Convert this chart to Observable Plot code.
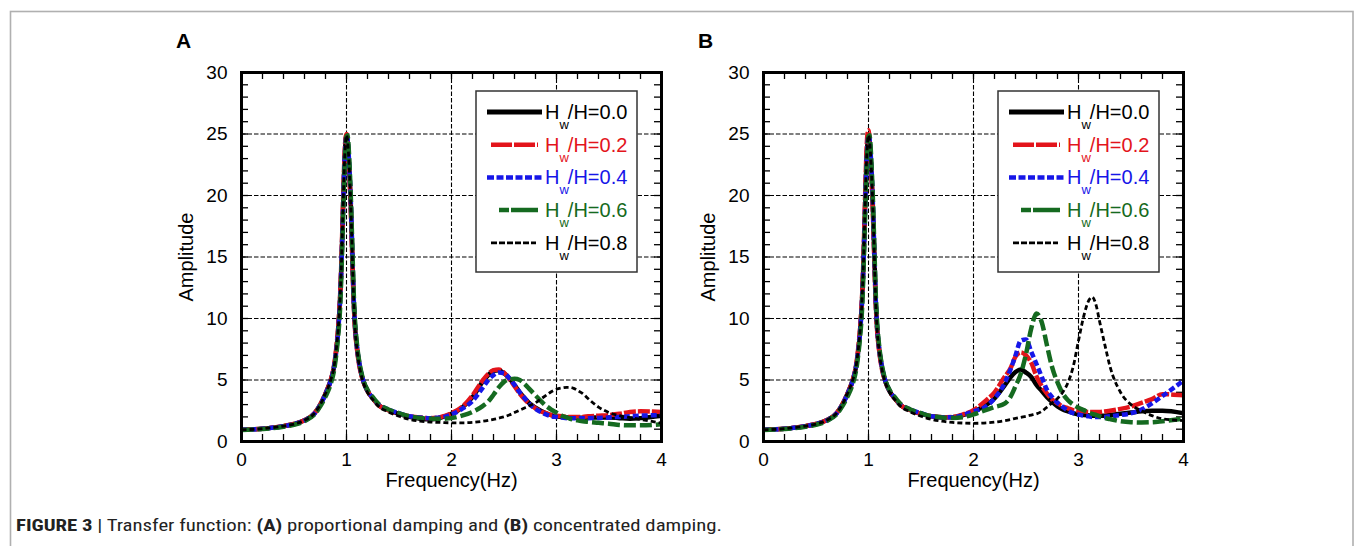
<!DOCTYPE html>
<html>
<head>
<meta charset="utf-8">
<script src="https://cdn.jsdelivr.net/npm/d3@7"></script>
<script src="https://cdn.jsdelivr.net/npm/@observablehq/plot@0.6"></script>
<style>
  body { margin: 0; background: #fff; }
  #fig { position: relative; width: 1355px; height: 546px; overflow: hidden; background: #fff; }
  #bg { position: absolute; left: 0; top: 0; }
  .panel { position: absolute; top: 20px; }
</style>
</head>
<body>
<div id="fig">
  <svg id="bg" width="1355" height="546"></svg>
  <div class="panel" id="panelA" style="left:150px"></div>
  <div class="panel" id="panelB" style="left:672px"></div>
</div>
<script>
// ---------------- data ----------------
const freq = [
  0, 0.2, 0.4, 0.5, 0.6, 0.7, 0.75, 0.8, 0.85, 0.88,
  0.9, 0.92, 0.94, 0.95, 0.96, 0.97, 0.98, 0.99, 1.0, 1.01,
  1.02, 1.03, 1.04, 1.05, 1.06, 1.07, 1.08, 1.1, 1.13, 1.16,
  1.2, 1.26, 1.3, 1.4, 1.5, 1.6, 1.7, 1.8, 1.9, 2.0,
  2.1, 2.2, 2.3, 2.35, 2.4, 2.45, 2.5, 2.55, 2.6, 2.65,
  2.7, 2.75, 2.8, 2.85, 2.9, 2.95, 3.0, 3.05, 3.1, 3.13,
  3.17, 3.2, 3.25, 3.3, 3.4, 3.5, 3.6, 3.7, 3.8, 4.0
];

const hwLabels = ["0.0", "0.2", "0.4", "0.6", "0.8"];
const panelLetters = ["A", "B"];
const xTickValues = [0, 1, 2, 3, 4];
const yTickValues = [0, 5, 10, 15, 20, 25, 30];
const xMinorTicks = [0, 0.2, 0.4, 0.6, 0.8, 1, 1.2, 1.4, 1.6, 1.8, 2, 2.2, 2.4, 2.6, 2.8, 3, 3.2, 3.4, 3.6, 3.8, 4];
const yMinorTicks = [0, 1, 2, 3, 4, 5, 6, 7, 8, 9, 10, 11, 12, 13, 14, 15, 16, 17, 18, 19, 20, 21, 22, 23, 24, 25, 26, 27, 28, 29, 30];
const xTitle = "Frequency(Hz)";
const yTitle = "Amplitude";

// (A) proportional damping
const ampA_00 = [
  0.95, 1.04, 1.25, 1.42, 1.72, 2.35, 3.0, 3.9, 5.0, 6.0,
  7.2, 9.0, 11.8, 14.0, 16.8, 19.8, 22.5, 24.2, 24.9, 24.5,
  23.3, 21.6, 19.5, 16.8, 13.8, 11.2, 9.5, 7.6, 5.9, 4.9,
  4.1, 3.4, 3.0, 2.55, 2.25, 2.0, 1.85, 1.8, 1.95, 2.25,
  2.75, 3.6, 4.9, 5.4, 5.75, 5.8, 5.55, 5.15, 4.6, 4.0,
  3.5, 3.05, 2.75, 2.5, 2.3, 2.15, 2.05, 2.0, 1.95, 1.95,
  1.93, 1.93, 1.93, 1.95, 1.95, 1.95, 1.9, 1.85, 1.9, 2.1
];
const ampA_02 = [
  0.95, 1.04, 1.25, 1.42, 1.72, 2.35, 3.0, 3.9, 5.0, 6.1,
  7.4, 9.2, 12.0, 14.3, 17.2, 20.3, 23.0, 24.6, 25.0, 24.3,
  23.0, 21.2, 19.0, 16.3, 13.4, 11.0, 9.3, 7.5, 5.8, 4.9,
  4.1, 3.4, 3.0, 2.55, 2.25, 2.05, 1.95, 1.9, 2.0, 2.3,
  2.8, 3.75, 5.0, 5.5, 5.8, 5.85, 5.6, 5.1, 4.5, 3.9,
  3.4, 3.0, 2.7, 2.45, 2.3, 2.15, 2.1, 2.05, 2.0, 2.0,
  2.0, 2.0, 2.0, 2.05, 2.1, 2.15, 2.25, 2.4, 2.45, 2.4
];
const ampA_04 = [
  0.95, 1.04, 1.24, 1.41, 1.7, 2.32, 2.95, 3.85, 4.95, 6.0,
  7.2, 8.9, 11.6, 13.8, 16.6, 19.6, 22.4, 24.1, 24.9, 24.6,
  23.5, 21.8, 19.8, 17.0, 14.0, 11.4, 9.6, 7.7, 6.0, 4.95,
  4.15, 3.45, 3.05, 2.6, 2.3, 2.05, 1.95, 1.9, 1.95, 2.2,
  2.65, 3.3, 4.4, 5.0, 5.4, 5.6, 5.55, 5.15, 4.6, 4.0,
  3.5, 3.0, 2.65, 2.4, 2.2, 2.05, 2.0, 1.95, 1.9, 1.9,
  1.9, 1.9, 1.9, 1.9, 1.92, 1.95, 2.0, 2.05, 2.1, 2.15
];
const ampA_06 = [
  0.93, 1.02, 1.2, 1.36, 1.65, 2.25, 2.85, 3.65, 4.7, 5.7,
  6.9, 8.5, 11.0, 13.2, 16.0, 19.0, 21.8, 23.8, 24.8, 24.9,
  24.0, 22.3, 20.2, 17.5, 14.5, 11.8, 10.0, 7.9, 6.1, 5.0,
  4.2, 3.5, 3.1, 2.6, 2.3, 2.05, 1.92, 1.85, 1.85, 1.9,
  2.1, 2.4, 2.9, 3.25, 3.8, 4.4, 4.85, 5.05, 5.1, 5.0,
  4.65, 4.2, 3.75, 3.3, 2.9, 2.6, 2.35, 2.1, 1.95, 1.85,
  1.78, 1.72, 1.65, 1.6, 1.52, 1.45, 1.35, 1.32, 1.32, 1.4
];
const ampA_08 = [
  0.95, 1.04, 1.25, 1.42, 1.72, 2.35, 3.0, 3.9, 5.0, 6.0,
  7.3, 9.0, 11.8, 14.0, 16.8, 19.8, 22.5, 24.2, 24.9, 24.5,
  23.3, 21.6, 19.5, 16.8, 13.8, 11.2, 9.4, 7.5, 5.8, 4.8,
  4.0, 3.3, 2.9, 2.4, 2.05, 1.8, 1.65, 1.58, 1.55, 1.52,
  1.52, 1.55, 1.65, 1.72, 1.8, 1.9, 2.0, 2.15, 2.35, 2.55,
  2.75, 2.95, 3.15, 3.45, 3.75, 4.05, 4.25, 4.35, 4.4, 4.4,
  4.3, 4.15, 3.9, 3.5, 2.8, 2.35, 2.1, 1.95, 1.8, 1.5
];

// (B) concentrated damping
const ampB_00 = [
  0.95, 1.04, 1.25, 1.42, 1.72, 2.35, 3.0, 3.9, 5.0, 6.0,
  7.2, 9.0, 11.8, 14.0, 16.8, 19.8, 22.5, 24.2, 24.9, 24.5,
  23.3, 21.6, 19.5, 16.8, 13.8, 11.2, 9.5, 7.6, 5.9, 4.9,
  4.1, 3.4, 3.0, 2.55, 2.25, 2.05, 1.98, 1.98, 2.15, 2.45,
  2.85, 3.5, 4.6, 5.2, 5.65, 5.85, 5.6, 5.25, 4.6, 4.1,
  3.6, 3.2, 2.85, 2.6, 2.45, 2.3, 2.2, 2.15, 2.12, 2.1,
  2.1, 2.1, 2.1, 2.15, 2.25, 2.35, 2.45, 2.5, 2.5, 2.3
];
const ampB_02 = [
  0.95, 1.04, 1.25, 1.42, 1.72, 2.35, 3.0, 3.9, 5.0, 6.1,
  7.4, 9.2, 12.0, 14.4, 17.4, 20.6, 23.4, 25.0, 25.3, 24.5,
  23.1, 21.2, 19.0, 16.3, 13.4, 11.0, 9.3, 7.5, 5.8, 4.9,
  4.1, 3.4, 3.0, 2.55, 2.25, 2.05, 1.98, 2.0, 2.2, 2.55,
  3.2, 4.0, 5.3, 5.9, 6.9, 7.25, 7.0, 6.4, 5.3, 4.5,
  3.9, 3.4, 3.1, 2.85, 2.7, 2.55, 2.5, 2.45, 2.4, 2.4,
  2.4, 2.4, 2.45, 2.5, 2.65, 2.85, 3.15, 3.45, 3.85, 3.75
];
const ampB_04 = [
  0.95, 1.04, 1.24, 1.41, 1.7, 2.32, 2.95, 3.85, 4.95, 6.0,
  7.2, 8.9, 11.6, 13.8, 16.6, 19.6, 22.4, 24.1, 24.9, 24.6,
  23.5, 21.8, 19.8, 17.0, 14.0, 11.4, 9.6, 7.7, 6.0, 4.95,
  4.15, 3.45, 3.05, 2.6, 2.3, 2.05, 1.97, 1.97, 2.15, 2.45,
  2.75, 3.5, 4.8, 5.8, 7.0, 8.2, 8.3, 7.3, 6.3, 5.25,
  4.2, 3.6, 3.15, 2.8, 2.5, 2.3, 2.2, 2.1, 2.05, 2.0,
  2.0, 2.0, 2.0, 2.05, 2.15, 2.3, 2.6, 3.1, 3.7, 4.95
];
const ampB_06 = [
  0.93, 1.02, 1.2, 1.36, 1.65, 2.25, 2.85, 3.65, 4.7, 5.7,
  6.9, 8.5, 11.0, 13.2, 16.0, 19.0, 21.8, 23.8, 24.8, 24.9,
  24.0, 22.3, 20.2, 17.5, 14.5, 11.8, 10.0, 7.9, 6.1, 5.0,
  4.2, 3.5, 3.1, 2.6, 2.3, 2.05, 1.95, 1.92, 1.98, 2.2,
  2.5, 2.8, 3.1, 3.6, 4.5, 5.5, 7.1, 9.2, 10.4, 9.7,
  7.8, 6.0, 4.8, 3.9, 3.35, 3.0, 2.75, 2.55, 2.35, 2.25,
  2.15, 2.05, 1.92, 1.82, 1.65, 1.57, 1.55, 1.57, 1.65, 1.85
];
const ampB_08 = [
  0.95, 1.04, 1.25, 1.42, 1.72, 2.35, 3.0, 3.9, 5.0, 6.0,
  7.3, 9.0, 11.8, 14.0, 16.8, 19.8, 22.5, 24.2, 24.9, 24.5,
  23.3, 21.6, 19.5, 16.8, 13.8, 11.2, 9.4, 7.5, 5.8, 4.8,
  4.0, 3.3, 2.9, 2.4, 2.05, 1.8, 1.65, 1.55, 1.5, 1.48,
  1.5, 1.57, 1.7, 1.78, 1.88, 1.97, 2.05, 2.15, 2.25, 2.45,
  2.8, 3.15, 3.5, 4.0, 4.8, 6.1, 8.2, 10.2, 11.5, 11.75,
  11.0, 9.8, 7.9, 6.1, 4.0, 3.0, 2.5, 2.1, 1.85, 1.7
];

const captionParts = [
  ["FIGURE 3", true], [" | Transfer function: ", false], ["(A)", true],
  [" proportional damping and ", false], ["(B)", true], [" concentrated damping.", false]
];

// ---------------- styles ----------------
const FONT = "'Liberation Sans', Arial, Helvetica, sans-serif";
const seriesStyle = [
  { color: "#000000", width: 4.5, dash: null,    lx1: 337, lx2: 392, lw: 5 },
  { color: "#e3141b", width: 4.5, dash: "12,2",  lx1: 341, lx2: 388, lw: 4.5, ldash: "21,2" },
  { color: "#1616e8", width: 4.5, dash: "6,3",   lx1: 337, lx2: 392, lw: 4.5, ldash: "7,2.5" },
  { color: "#156a20", width: 4.5, dash: "12,4",  lx1: 349, lx2: 388, lw: 4.5, ldash: "10,2,60" },
  { color: "#000000", width: 2.8, dash: "5,3",   lx1: 341, lx2: 386, lw: 2.8, ldash: "6,2" }
];

function makePanel(seriesAmps) {
  const W = 530, H = 480, ml = 91, mr = 19, mt = 52, mb = 59;
  const iw = W - ml - mr, ih = H - mt - mb;
  const tickLen = 7;
  const grid = { stroke: "#000", strokeWidth: 1.1, strokeDasharray: "4.5,2" };
  const tick = { stroke: "#000", strokeWidth: 1.3 };
  const lines = seriesAmps.map((amps, i) => {
    const rows = freq.map((f, j) => ({ f, a: amps[j] }));
    const s = seriesStyle[i];
    return Plot.line(rows, {
      x: "f", y: "a", stroke: s.color, strokeWidth: s.width,
      strokeDasharray: s.dash, curve: "monotone-x", strokeLinecap: "butt"
    });
  });
  const svg = Plot.plot({
    width: W, height: H,
    marginLeft: ml, marginRight: mr, marginTop: mt, marginBottom: mb,
    style: { fontFamily: FONT, background: "transparent", overflow: "visible", color: "#000" },
    x: { domain: [0, 4] },
    y: { domain: [0, 30] },
    marks: [
      Plot.ruleX(xTickValues.slice(1, -1), grid),
      Plot.ruleY(yTickValues.slice(1, -1), grid),
      Plot.ruleX(xMinorTicks, { ...tick, insetTop: ih - tickLen }),
      Plot.ruleX(xMinorTicks, { ...tick, insetBottom: ih - tickLen }),
      Plot.ruleY(yMinorTicks, { ...tick, insetRight: iw - tickLen }),
      Plot.ruleY(yMinorTicks, { ...tick, insetLeft: iw - tickLen }),
      ...lines,
      Plot.frame({ stroke: "#000", strokeWidth: 3 }),
      Plot.axisX({ ticks: xTickValues, tickSize: 0, tickPadding: 11, fontSize: 19, label: null, tickFormat: d => String(d) }),
      Plot.axisY({ ticks: yTickValues, tickSize: 0, tickPadding: 14, fontSize: 19, label: null, tickFormat: d => String(d) }),
      Plot.text([xTitle], { text: d => d, frameAnchor: "bottom", dy: 39, lineAnchor: "middle", textAnchor: "middle", fontSize: 20 }),
      Plot.text([yTitle], { text: d => d, frameAnchor: "left", dx: -55, rotate: -90, lineAnchor: "middle", textAnchor: "middle", fontSize: 20 })
    ]
  });

  // legend box
  const g = d3.select(svg).append("g").attr("font-family", FONT).attr("text-anchor", "start");
  g.append("rect").attr("x", 326).attr("y", 71).attr("width", 161).attr("height", 181)
    .attr("fill", "#fff").attr("stroke", "#333").attr("stroke-width", 1.5);
  hwLabels.forEach((lab, i) => {
    const s = seriesStyle[i];
    const y = 92 + i * 32.7;
    g.append("line").attr("x1", s.lx1).attr("x2", s.lx2).attr("y1", y).attr("y2", y)
      .attr("stroke", s.color).attr("stroke-width", s.lw)
      .attr("stroke-dasharray", s.ldash || null);
    const t = g.append("text").attr("x", 395).attr("y", y + 7).attr("fill", s.color)
      .attr("font-size", 20).attr("text-anchor", "start");
    t.append("tspan").text("H");
    t.append("tspan").attr("dy", 10).attr("font-size", 13).text("w");
    t.append("tspan").attr("dy", -10).attr("dx", -1).text("/H=" + lab);
  });
  return svg;
}

document.getElementById("panelA").appendChild(makePanel([ampA_00, ampA_02, ampA_04, ampA_06, ampA_08]));
document.getElementById("panelB").appendChild(makePanel([ampB_00, ampB_02, ampB_04, ampB_06, ampB_08]));

// background: border, panel letters, caption
const bg = d3.select("#bg");
bg.append("rect").attr("x", 10.5).attr("y", 11.5).attr("width", 1342.5).attr("height", 600)
  .attr("fill", "none").attr("stroke", "#b0b0b0").attr("stroke-width", 1.6);
[[176, panelLetters[0]], [698, panelLetters[1]]].forEach(([x, L]) => {
  bg.append("text").attr("x", x).attr("y", 48).attr("font-family", FONT)
    .attr("font-weight", "bold").attr("font-size", 21).text(L);
});
const cap = bg.append("text").attr("x", 16).attr("y", 531)
  .attr("font-family", "'Liberation Sans Narrow', 'Roboto Condensed', Arial, sans-serif")
  .attr("font-size", 16).attr("fill", "#222")
  .attr("textLength", 706).attr("lengthAdjust", "spacingAndGlyphs");
captionParts.forEach(([txt, bold]) => {
  cap.append("tspan").attr("font-weight", bold ? "bold" : "normal").text(txt);
});
</script>
</body>
</html>
